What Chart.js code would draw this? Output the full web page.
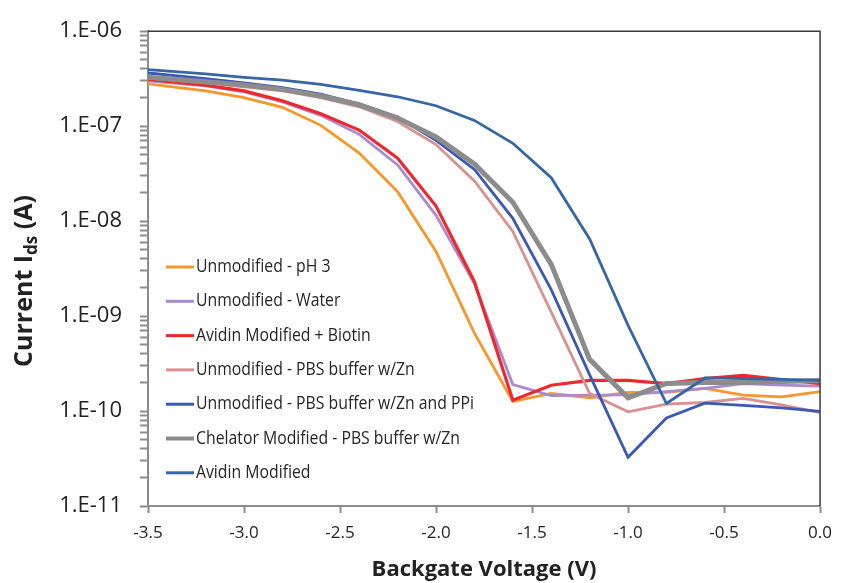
<!DOCTYPE html>
<html>
<head>
<meta charset="utf-8">
<script src="https://cdn.jsdelivr.net/npm/chart.js@4"></script>
<style>
  body { margin: 0; background: #fff; }
  #wrap { width: 842px; height: 583px; }
</style>
</head>
<body>
<div id="wrap"><canvas id="chart" width="842" height="583"></canvas></div>
<script>
// backgate voltage (V)
const volts = [-3.5, -3.2, -3.0, -2.8, -2.6, -2.4, -2.2, -2.0, -1.8, -1.6, -1.4, -1.2, -1.0, -0.8, -0.6, -0.4, -0.2, 0]

// current Ids (A) for each series
const unmodPH3 = [2.79e-7, 2.35e-7, 2.0e-7, 1.58e-7, 1.02e-7, 5.2e-8, 2.04e-8, 4.8e-9, 6.6e-10, 1.26e-10, 1.53e-10, 1.38e-10, 1.57e-10, 1.57e-10, 1.73e-10, 1.47e-10, 1.41e-10, 1.6e-10]
const unmodWater = [3.0e-7, 2.65e-7, 2.3e-7, 1.8e-7, 1.3e-7, 8.2e-8, 3.9e-8, 1.15e-8, 2.2e-9, 1.9e-10, 1.45e-10, 1.47e-10, 1.48e-10, 1.6e-10, 1.73e-10, 1.94e-10, 1.87e-10, 1.83e-10]
const avidinBiotin = [3.1e-7, 2.71e-7, 2.35e-7, 1.85e-7, 1.35e-7, 9.1e-8, 4.6e-8, 1.44e-8, 2.3e-9, 1.3e-10, 1.87e-10, 2.1e-10, 2.1e-10, 1.94e-10, 2.2e-10, 2.37e-10, 2.15e-10, 1.94e-10]
const unmodPBSZn = [3.2e-7, 2.85e-7, 2.6e-7, 2.35e-7, 2.0e-7, 1.6e-7, 1.12e-7, 6.4e-8, 2.65e-8, 7.8e-9, 1.1e-9, 1.53e-10, 9.8e-11, 1.18e-10, 1.23e-10, 1.36e-10, 1.16e-10, 9.6e-11]
const unmodPBSZnPPi = [3.63e-7, 3.17e-7, 2.86e-7, 2.54e-7, 2.17e-7, 1.71e-7, 1.25e-7, 7.1e-8, 3.5e-8, 1.07e-8, 1.9e-9, 2.4e-10, 3.26e-11, 8.45e-11, 1.21e-10, 1.15e-10, 1.08e-10, 9.9e-11]
const chelatorPBSZn = [3.27e-7, 2.93e-7, 2.71e-7, 2.44e-7, 2.08e-7, 1.68e-7, 1.22e-7, 7.7e-8, 4.0e-8, 1.58e-8, 3.5e-9, 3.5e-10, 1.38e-10, 1.95e-10, 2.0e-10, 2.0e-10, 2.05e-10, 2.1e-10]
const avidinMod = [3.93e-7, 3.55e-7, 3.27e-7, 3.05e-7, 2.75e-7, 2.38e-7, 2.04e-7, 1.64e-7, 1.15e-7, 6.6e-8, 2.87e-8, 6.5e-9, 8.0e-10, 1.2e-10, 2.23e-10, 2.2e-10, 2.15e-10, 2.1e-10]

const seriesNames = ['Unmodified - pH 3', 'Unmodified - Water', 'Avidin Modified + Biotin', 'Unmodified - PBS buffer w/Zn',
  'Unmodified - PBS buffer w/Zn and PPi', 'Chelator Modified - PBS buffer w/Zn', 'Avidin Modified']
const seriesData = [unmodPH3, unmodWater, avidinBiotin, unmodPBSZn, unmodPBSZnPPi, chelatorPBSZn, avidinMod]
const seriesColors = ['#F7962A', '#A98BCE', '#EC2A2E', '#D9908F', '#3A58B8', '#8C8C8C', '#3566A6']
const seriesWidths = [2.8, 2.8, 3.2, 2.8, 2.8, 5, 2.8]

// y axis ticks: decades plus minor 2..9
const yDecades = [-11, -10, -9, -8, -7, -6]
const xTickStep = 0.5

let yTickVals = []
yDecades.forEach(e => {
  for (let m = 1; m <= 9; m++) {
    if (e === -6 && m > 1) break
    yTickVals.push(m * Math.pow(10, e))
  }
})

const datasets = seriesData.map((vals, i) => ({
  label: seriesNames[i],
  data: vals.map((v, j) => ({ x: volts[j], y: v })),
  borderColor: seriesColors[i],
  backgroundColor: seriesColors[i],
  borderWidth: seriesWidths[i],
  pointRadius: 0,
  tension: 0,
  order: seriesData.length - i
}))

const FONT = "'Open Sans', sans-serif"

// top/right frame, y title with subscript, legend inside plot
const extras = {
  id: 'extras',
  afterDraw(chart) {
    const c = chart.ctx
    const a = chart.chartArea
    c.save()
    c.strokeStyle = '#3c3c3c'
    c.lineWidth = 1.5
    c.beginPath()
    c.moveTo(a.left, a.top)
    c.lineTo(a.right, a.top)
    c.lineTo(a.right, a.bottom)
    c.stroke()

    // y axis title
    c.translate(25, 281)
    c.rotate(-Math.PI / 2)
    c.fillStyle = '#222'
    c.textBaseline = 'middle'
    const big = 'bold 25px ' + FONT
    const small = 'bold 17px ' + FONT
    c.font = big
    const w1 = c.measureText('Current I').width
    const w3 = c.measureText(' (A)').width
    c.font = small
    const w2 = c.measureText('ds').width
    let x0 = -(w1 + w2 + w3) / 2
    c.font = big
    c.fillText('Current I', x0, 0)
    c.font = small
    c.fillText('ds', x0 + w1, 7)
    c.font = big
    c.fillText(' (A)', x0 + w1 + w2, 0)
    c.restore()

    // legend, text narrowed like the original's condensed face
    c.save()
    c.textBaseline = 'middle'
    c.font = '18px ' + FONT
    const longest = Math.max(...chart.data.datasets.map(ds => c.measureText(ds.label).width))
    const squeeze = Math.min(1, 278 / longest)
    chart.data.datasets.forEach((ds, i) => {
      const y = 267 + i * 34.3
      c.strokeStyle = ds.borderColor
      c.lineWidth = i === 5 ? 4 : 3
      c.beginPath()
      c.moveTo(166, y)
      c.lineTo(194, y)
      c.stroke()
      c.save()
      c.translate(196, y)
      c.scale(squeeze, 1)
      c.fillStyle = '#262626'
      c.fillText(ds.label, 0, 0)
      c.restore()
    })
    c.restore()
  }
}

new Chart(document.getElementById('chart'), {
  type: 'line',
  data: { datasets: datasets },
  options: {
    responsive: false,
    animation: false,
    layout: { autoPadding: false, padding: { top: 23, right: 13, left: 0, bottom: 0 } },
    plugins: { legend: { display: false }, tooltip: { enabled: false } },
    scales: {
      x: {
        type: 'linear',
        min: -3.5,
        max: 0,
        border: { color: '#8c8c8c', width: 2 },
        grid: { drawOnChartArea: false, tickLength: 7, tickColor: '#8c8c8c', tickWidth: 2 },
        ticks: {
          stepSize: xTickStep,
          padding: 10,
          color: '#222',
          font: { family: FONT, size: 17 },
          callback: v => v.toFixed(1)
        },
        title: {
          display: true,
          text: 'Backgate Voltage (V)',
          color: '#222',
          font: { family: FONT, size: 22, weight: 'bold' },
          padding: { top: 2, bottom: 0 }
        },
        afterFit: s => { s.height = 77 }
      },
      y: {
        type: 'logarithmic',
        min: 1e-11,
        max: 1e-6,
        border: { color: '#8c8c8c', width: 2 },
        grid: { drawOnChartArea: false, tickLength: 8, tickColor: '#8c8c8c', tickWidth: 2 },
        afterBuildTicks: s => { s.ticks = yTickVals.map(v => ({ value: v })) },
        ticks: {
          padding: 18,
          color: '#222',
          font: { family: FONT, size: 22 },
          autoSkip: false,
          callback: v => {
            const e = Math.round(Math.log10(v))
            if (Math.abs(v - Math.pow(10, e)) / v > 1e-6) return ''
            return '1.E-' + String(-e).padStart(2, '0')
          }
        },
        afterFit: s => { s.width = 148 }
      }
    }
  },
  plugins: [extras]
})
</script>
</body>
</html>
